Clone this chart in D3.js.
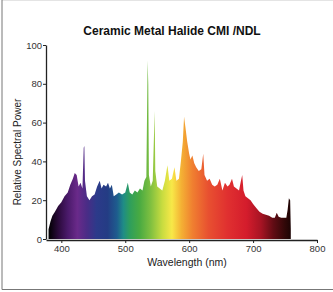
<!DOCTYPE html>
<html><head><meta charset="utf-8">
<script src="https://cdn.jsdelivr.net/npm/d3@7/dist/d3.min.js"></script>
<style>body{margin:0;background:#fff}svg{display:block}</style>
</head><body>
<script>
const title = "Ceramic Metal Halide CMI /NDL";
const xTicks = [400, 500, 600, 700, 800];
const yTicks = [0, 20, 40, 60, 80, 100];
const wavelengths = [380,383,386,390,395,400,405,410,414,418,421,424,427,430,433,435,436,437,440,444,448,452,456,460,463,466,470,473,476,479,482,486,490,495,500,504,507,511,515,519,523,527,530,533,535,536,537,540,543,546,547,550,554,558,562,566,569,573,577,580,584,587,590,592,594,597,600,602,605,608,611,615,619,622,624,628,632,636,640,644,648,652,656,660,663,667,670,674,678,681,683,685,688,692,696,700,705,710,715,720,725,730,734,737,740,744,748,752,754,756,758,759];
const power = [5,9,12,14,17,19,22,24,28,31,34,33,27,29,26,47,48,30,22,20,22,23,27,30,26,28,27,29,26,28,22,23,24,23,24,29,24,23,25,24,26,25,30,32,92,80,33,27,30,66,35,27,26,25,30,38,30,31,37,30,31,40,50,63,58,50,44,41,43,39,37,35,36,44,33,30,31,28,27,28,31,25,29,27,28,31,27,26,25,30,33,25,22,21,20,18,16,14,13,12.5,12,11,11,13.5,11.5,11,11,11,15,21,20,5];
const colorStops = [[380,"#000000"],[395,"#2a0a3a"],[410,"#4a1a6a"],[425,"#6a2a8a"],[440,"#4a2c86"],[455,"#2c3a8a"],[472,"#243c84"],[487,"#1e5c8e"],[497,"#1f8c86"],[507,"#2e9e5c"],[522,"#48aa42"],[540,"#80c040"],[558,"#c8dc40"],[573,"#f8e848"],[588,"#f4b034"],[605,"#f08030"],[630,"#e85030"],[660,"#e03030"],[690,"#d41c2c"],[712,"#a81424"],[732,"#600c14"],[750,"#300808"],[760,"#1a0404"]];

const W = 333, H = 292;
const svg = d3.select("body").append("svg").attr("width", W).attr("height", H);

const x = d3.scaleLinear().domain([376, 800]).range([46, 317]);
const y = d3.scaleLinear().domain([0, 100]).range([239, 45]);

// frame
svg.append("line").attr("x1",2).attr("x2",W).attr("y1",0.5).attr("y2",0.5).attr("stroke","#e4e4e4");
svg.append("line").attr("x1",2).attr("x2",2).attr("y1",0).attr("y2",289.5).attr("stroke","#777");
svg.append("line").attr("x1",2).attr("x2",W).attr("y1",289.5).attr("y2",289.5).attr("stroke","#777");

const defs = svg.append("defs");
const grad = defs.append("linearGradient").attr("id","spec")
  .attr("gradientUnits","userSpaceOnUse")
  .attr("x1", x(380)).attr("x2", x(760)).attr("y1",0).attr("y2",0);
colorStops.forEach(([w,c]) => grad.append("stop")
  .attr("offset", ((w-380)/(760-380)*100)+"%").attr("stop-color", c));

const data = wavelengths.map((w,i)=>({w, v: power[i]}));
const area = d3.area().x(d=>x(d.w)).y0(y(0)).y1(d=>y(d.v));
svg.append("path").datum(data).attr("d", area).attr("fill","url(#spec)");

// axes
const font = "Liberation Sans, Arial, sans-serif";
const xAxis = svg.append("g").attr("transform",`translate(0,${y(0)+1})`)
  .call(d3.axisBottom(x).tickValues(xTicks).tickSize(3).tickSizeOuter(0));
const yAxis = svg.append("g").attr("transform",`translate(${x(376)},0)`)
  .call(d3.axisLeft(y).tickValues(yTicks).tickSize(3).tickSizeOuter(0));
[xAxis, yAxis].forEach(g => {
  g.select(".domain").attr("stroke","#222").attr("stroke-width",1.3);
  g.selectAll(".tick line").attr("stroke","#222");
  g.selectAll(".tick text").attr("font-family",font).attr("font-size","9.5px").attr("fill","#333");
});
yAxis.selectAll(".tick text").attr("x",-4);
xAxis.selectAll(".tick text").attr("y",5);

svg.append("text").attr("x",172).attr("y",35).attr("text-anchor","middle")
  .attr("font-family",font).attr("font-weight","bold").attr("font-size","12px").attr("fill","#111").text(title);
svg.append("text").attr("x",187).attr("y",266).attr("text-anchor","middle")
  .attr("font-family",font).attr("font-size","10.5px").attr("fill","#222").text("Wavelength (nm)");
svg.append("text").attr("transform","translate(21,152) rotate(-90)").attr("text-anchor","middle")
  .attr("font-family",font).attr("font-size","10px").attr("fill","#222").text("Relative Spectral Power");
</script>
</body></html>
